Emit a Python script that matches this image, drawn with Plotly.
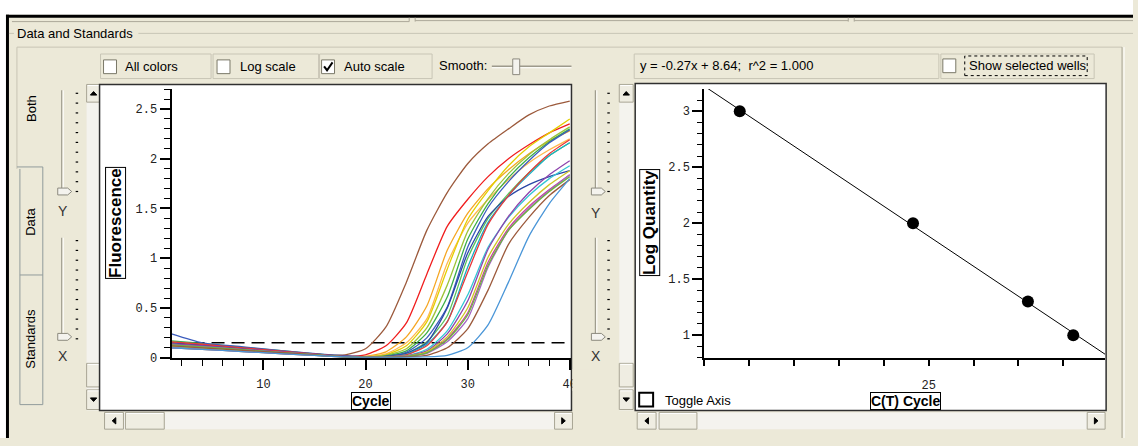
import numpy as np
import plotly.graph_objects as go

W, H = 1138, 446

# ---------------- data ----------------
CYCLES = [1, 4, 8, 12, 16, 18, 20, 22, 24, 26, 28, 30, 32, 34, 36, 38, 40]

WELL_COLORS = ["#9C5A3C", "#F01E1E", "#F5A623", "#FFB84D", "#E3CF00",
               "#9DC43A", "#3DAE49", "#3C5DBE", "#5BC35B", "#2A47A6",
               "#1AAFC4", "#E8383A", "#35C6D4", "#8E44AD", "#C8449E",
               "#CFC626", "#A466C4", "#6DB33F", "#9C5A3C", "#4A96D8"]

WELL_01 = [.14, .12, .087, .056, .03, .03, .09, .31, .76, 1.28, 1.66, 1.95, 2.15, 2.30, 2.44, 2.53, 2.58]
WELL_02 = [.12, .10, .074, .048, .022, .015, .03, .12, .35, .84, 1.32, 1.59, 1.82, 2.00, 2.14, 2.26, 2.35]
WELL_03 = [.16, .136, .10, .064, .029, .013, .015, .06, .21, .52, 1.08, 1.45, 1.70, 1.89, 2.05, 2.18, 2.28]
WELL_04 = [.13, .11, .081, .052, .023, .01, .012, .04, .15, .39, .95, 1.35, 1.59, 1.79, 1.96, 2.09, 2.20]
WELL_05 = [.15, .128, .093, .06, .027, .012, .01, .03, .12, .36, .89, 1.39, 1.68, 1.93, 2.12, 2.26, 2.40]
WELL_06 = [.11, .094, .068, .044, .02, .01, .01, .025, .09, .30, .73, 1.27, 1.60, 1.85, 2.04, 2.19, 2.32]
WELL_07 = [.17, .145, .105, .068, .031, .014, .008, .02, .07, .25, .61, 1.19, 1.55, 1.81, 2.01, 2.17, 2.30]
WELL_08 = [.24, .15, .11, .07, .035, .02, .01, .015, .055, .20, .51, 1.11, 1.51, 1.77, 1.98, 2.16, 2.29]
WELL_09 = [.10, .085, .062, .04, .018, .008, .006, .012, .045, .16, .42, 1.00, 1.40, 1.65, 1.86, 2.03, 2.16]
WELL_10 = [.15, .128, .093, .06, .027, .012, .006, .015, .045, .15, .50, 1.05, 1.42, 1.62, 1.74, 1.82, 1.88]
WELL_11 = [.12, .10, .074, .048, .022, .01, .006, .01, .035, .135, .36, .91, 1.36, 1.63, 1.84, 2.03, 2.16]
WELL_12 = [.16, .136, .10, .064, .029, .013, .006, .01, .03, .12, .36, .86, 1.34, 1.63, 1.86, 2.05, 2.19]
WELL_13 = [.11, .094, .068, .044, .02, .009, .005, .008, .02, .085, .27, .63, 1.11, 1.41, 1.63, 1.80, 1.93]
WELL_14 = [.14, .12, .087, .056, .025, .011, .005, .007, .02, .07, .24, .57, 1.09, 1.42, 1.66, 1.84, 1.98]
WELL_15 = [.10, .085, .062, .04, .018, .008, .004, .006, .015, .055, .19, .45, .96, 1.30, 1.52, 1.69, 1.84]
WELL_16 = [.12, .10, .074, .048, .022, .01, .005, .006, .016, .06, .21, .50, 1.01, 1.34, 1.56, 1.74, 1.88]
WELL_17 = [.13, .11, .081, .052, .023, .01, .004, .005, .014, .045, .16, .39, .91, 1.28, 1.50, 1.68, 1.84]
WELL_18 = [.13, .11, .081, .052, .023, .01, .005, .006, .015, .05, .18, .43, .93, 1.28, 1.49, 1.67, 1.82]
WELL_19 = [.12, .10, .074, .048, .022, .01, .004, .004, .01, .025, .10, .29, .68, 1.14, 1.41, 1.63, 1.79]
WELL_20 = [.10, .085, .062, .04, .018, .008, .003, .003, .004, .008, .025, .10, .33, .76, 1.22, 1.55, 1.80]

WELLS = [WELL_01, WELL_02, WELL_03, WELL_04, WELL_05, WELL_06, WELL_07, WELL_08, WELL_09, WELL_10,
         WELL_11, WELL_12, WELL_13, WELL_14, WELL_15, WELL_16, WELL_17, WELL_18, WELL_19, WELL_20]

THRESHOLD = 0.15

STD_CT = [20.79, 24.65, 27.21, 28.22]
STD_LOGQ = [3.0, 2.0, 1.3, 1.0]
EQUATION_TEXT = "y = -0.27x + 8.64;  r^2 = 1.000"

LEFT_X_RANGE = [1, 40.17]
LEFT_Y_RANGE = [0, 2.70]
RIGHT_X_RANGE = [20, 28.93]
RIGHT_Y_RANGE = [0.792, 3.198]

# ---------------- helpers ----------------
BG = "#ECE9D8"
GREY = "#ACA899"
UI_FONT = "Liberation Sans"
MONO = "Liberation Mono"


def X(px):
    return px / W


def Y(py):
    return 1 - py / H


shapes = []
annotations = []


def rect(x0, y0, x1, y1, fill=None, line=None, lw=1, layer="below", dash=None):
    shapes.append(dict(type="rect", xref="paper", yref="paper",
                       x0=X(x0), x1=X(x1), y0=Y(y1), y1=Y(y0),
                       fillcolor=fill if fill else "rgba(0,0,0,0)",
                       line=dict(color=line if line else "rgba(0,0,0,0)",
                                 width=lw if line else 0, dash=dash),
                       layer=layer))


def seg(x0, y0, x1, y1, color=GREY, lw=1, layer="below", dash=None):
    shapes.append(dict(type="line", xref="paper", yref="paper",
                       x0=X(x0), x1=X(x1), y0=Y(y0), y1=Y(y1),
                       line=dict(color=color, width=lw, dash=dash), layer=layer))


def poly(pts, fill="black", line=None, lw=1, layer="above"):
    d = "M " + " L ".join(f"{X(a):.5f},{Y(b):.5f}" for a, b in pts) + " Z"
    shapes.append(dict(type="path", xref="paper", yref="paper", path=d,
                       fillcolor=fill, line=dict(color=line if line else fill, width=lw),
                       layer=layer))


def text(px, py, s, size=13, anchor="left", angle=0, bold=False, color="black",
         family=UI_FONT, border=None):
    a = dict(x=X(px), y=Y(py), xref="paper", yref="paper", text=f"<b>{s}</b>" if bold else s,
             showarrow=False, xanchor=anchor, yanchor="middle", textangle=angle,
             font=dict(family=family, size=size, color=color))
    if border:
        a.update(bordercolor=border, borderwidth=1, borderpad=0, bgcolor="white")
    annotations.append(a)


# ---------------- window chrome ----------------
rect(0, 0, W, 15, fill="white")
rect(0, 0, 6, H, fill="white")
rect(6, 15, W, 18, fill="black")
rect(6, 15, 9, H, fill="black")
# tab bottoms of the upper panel
seg(12, 22, 411, 22)
seg(411, 18, 411, 22)
seg(417, 18, 417, 22)
seg(417, 21, 852, 21)
seg(852, 18, 852, 22)
seg(858, 18, 858, 22)
seg(858, 21, W, 21)
# group box
seg(9, 34, 14, 34, "#C8C5B5")
seg(139, 34, W, 34, "#C8C5B5")
text(15, 34, "Data and Standards", size=13)
# inner panel
seg(17, 48, 1127, 48, "#C8C5B5")
seg(1127, 48, 1127, H, "#A8A594")
seg(1129, 48, 1129, H, "white")
seg(17, 48, 17, 172, "#C8C5B5")
# side tabs
seg(17, 170, 43, 170, "#919B9C")
seg(43, 170, 43, 412, "#919B9C")
seg(20, 172, 20, 412, "#919B9C")
seg(20, 280, 43, 280, "#919B9C")
seg(20, 412, 43, 412, "#919B9C")
text(31, 110, "Both", size=13, anchor="center", angle=-90)
text(31, 226, "Data", size=13, anchor="center", angle=-90)
text(31, 345, "Standards", size=13, anchor="center", angle=-90)


def slider(track_x, tick_x, y_top, y_thumb, thumb_x0):
    seg(track_x, y_top, track_x, y_thumb, "#9D9A8C", 1.2)
    seg(track_x + 1.5, y_top, track_x + 1.5, y_thumb, "white", 1)
    for k in range(11):
        yy = y_top + 3 + k * 10
        seg(tick_x, yy, tick_x + 2.5, yy, "black", 1.2)
    poly([(thumb_x0, y_thumb - 3.5), (thumb_x0 + 10, y_thumb - 3.5), (thumb_x0 + 14, y_thumb),
          (thumb_x0 + 10, y_thumb + 3.5), (thumb_x0, y_thumb + 3.5)],
         fill="#F4F3EE", line="#8C8A7E", lw=1, layer="below")


slider(62, 76, 92, 195, 58)
slider(62, 76, 242, 343, 58)
slider(598, 610, 92, 195, 594)
slider(598, 610, 242, 343, 594)
text(63, 215, "Y", size=14, anchor="center", color="#333")
text(63, 363, "X", size=14, anchor="center", color="#333")
text(599, 217, "Y", size=14, anchor="center", color="#333")
text(599, 363, "X", size=14, anchor="center", color="#333")


def button(x0, y0, x1, y1):
    rect(x0, y0, x1, y1, fill="#EFEDE2", line="#A8A594", lw=1)
    seg(x0 + 1, y0 + 1, x1 - 1, y0 + 1, "white", 1)


def tri(cx, cy, direction):
    s = 3.2
    if direction == "up":
        pts = [(cx - s, cy + 1.8), (cx + s, cy + 1.8), (cx, cy - 1.8)]
    elif direction == "down":
        pts = [(cx - s, cy - 1.8), (cx + s, cy - 1.8), (cx, cy + 1.8)]
    elif direction == "left":
        pts = [(cx + 1.8, cy - s), (cx + 1.8, cy + s), (cx - 1.8, cy)]
    else:
        pts = [(cx - 1.8, cy - s), (cx - 1.8, cy + s), (cx + 1.8, cy)]
    poly(pts, fill="black", layer="below")


def vscroll(x0, x1):
    rect(x0, 86, x1, 418, fill="#F4F3EE")
    button(x0, 86, x1, 104)
    tri((x0 + x1) / 2, 95, "up")
    button(x0, 370, x1, 394)
    button(x0, 397, x1, 417)
    tri((x0 + x1) / 2, 407, "down")


def hscroll(x0, x1, th0, th1):
    rect(x0, 420, x1, 437, fill="#F4F3EE")
    button(x0, 420, x0 + 19, 437)
    tri(x0 + 9.5, 428.5, "left")
    button(th0, 420, th1, 437)
    button(x1 - 18, 420, x1, 437)
    tri(x1 - 9, 428.5, "right")


vscroll(87, 101)
vscroll(622, 636)
hscroll(105, 575, 126, 165)
hscroll(640, 1110, 662, 700)

# plot frames
rect(100, 86, 574, 418, fill="white", line="#303030", lw=1.5)
rect(638, 85, 1111, 418, fill="white", line="#303030", lw=1.5)

# checkbox row
for (a, b) in [(101, 212), (214, 320), (321, 434)]:
    rect(a, 55, b, 80, line="#C8C5B5")
for bx in [104, 218, 323]:
    rect(bx, 61, bx + 13, 75, fill="white", line="#7A7868", lw=1)
shapes.append(dict(type="path", xref="paper", yref="paper",
                   path=f"M {X(325.5):.5f},{Y(67.5):.5f} L {X(328.5):.5f},{Y(71.5):.5f} L {X(334):.5f},{Y(63.5):.5f}",
                   line=dict(color="black", width=2), layer="above"))
text(124, 68, "All colors")
text(239, 68, "Log scale")
text(344, 68, "Auto scale")
text(439, 67, "Smooth:")
seg(494, 67.5, 574, 67.5, "#9D9A8C", 1.5)
seg(494, 69, 574, 69, "white", 1)
rect(515, 60, 522, 76, fill="#F4F3EE", line="#8C8A7E")

# equation box and show selected wells
rect(637, 55, 943, 80, line="#C8C5B5")
text(641, 67, EQUATION_TEXT)
rect(945, 55, 1099, 80, line="#C8C5B5")
rect(947, 60, 960, 74, fill="white", line="#7A7868")
rect(969, 57, 1092, 77, line="black", lw=1, dash="dot")
text(971, 67, "Show selected wells")

# toggle axis
rect(642, 400, 656, 414, fill="white", line="black", lw=2, layer="above")
text(666, 408, "Toggle Axis")

# axis titles (boxed)
text(116.5, 227, "Fluorescence", size=17, anchor="center", angle=-90, bold=True, border="black")
text(372.5, 408, "Cycle", size=14, anchor="center", bold=True, border="black")
text(653, 227, "Log Quantity", size=17, anchor="center", angle=-90, bold=True, border="black")
text(909, 408, "C(T) Cycle", size=14, anchor="center", bold=True, border="black")

# cover that clips the last cycle label at the frame edge
rect(575, 376, 592, 398, fill=BG, layer="above")

# threshold line
shapes.append(dict(type="line", xref="x domain", yref="y", x0=0, x1=1, y0=THRESHOLD, y1=THRESHOLD,
                   line=dict(color="black", width=1.5, dash="13px,7px"), layer="below"))

# ---------------- traces ----------------
fig = go.Figure()
for col, vals in zip(WELL_COLORS, WELLS):
    fig.add_trace(go.Scatter(x=CYCLES, y=vals, mode="lines",
                             line=dict(color=col, width=1.3, shape="spline", smoothing=0.6),
                             xaxis="x", yaxis="y", hoverinfo="skip", showlegend=False))

coef = np.polyfit(STD_CT, STD_LOGQ, 1)
fit_x = np.array(RIGHT_X_RANGE)
fig.add_trace(go.Scatter(x=fit_x, y=np.polyval(coef, fit_x), mode="lines",
                         line=dict(color="black", width=1), xaxis="x2", yaxis="y2",
                         hoverinfo="skip", showlegend=False))
fig.add_trace(go.Scatter(x=STD_CT, y=STD_LOGQ, mode="markers",
                         marker=dict(size=12, color="black"), xaxis="x2", yaxis="y2",
                         hoverinfo="skip", showlegend=False))

tickfont = dict(family=MONO, size=12, color="#222")
common = dict(showline=True, linecolor="black", linewidth=2, ticks="outside",
              tickcolor="black", tickwidth=1.5, showgrid=False, zeroline=False,
              tickfont=tickfont, fixedrange=True)

fig.update_layout(
    width=W, height=H, margin=dict(l=0, r=0, t=0, b=0),
    paper_bgcolor=BG, plot_bgcolor="rgba(0,0,0,0)",
    showlegend=False, shapes=shapes, annotations=annotations,
    xaxis=dict(domain=[X(172.3), X(574)], range=LEFT_X_RANGE, anchor="y",
               dtick=10, tick0=0, ticklen=10, ticklabelstandoff=4,
               minor=dict(dtick=2, tick0=0, ticks="outside", ticklen=6, tickwidth=1, tickcolor="black"),
               **common),
    yaxis=dict(domain=[Y(364.3), Y(90.7)], range=LEFT_Y_RANGE, anchor="x",
               dtick=0.5, tick0=0, ticklen=10,
               minor=dict(dtick=0.1, tick0=0, ticks="outside", ticklen=6, tickwidth=1, tickcolor="black"),
               **common),
    xaxis2=dict(domain=[X(707.4), X(1110)], range=RIGHT_X_RANGE, anchor="y2",
                tickvals=[25], ticktext=["25"], ticklen=6, ticklabelstandoff=8,
                minor=dict(dtick=1, tick0=20, ticks="outside", ticklen=6, tickwidth=1.5, tickcolor="black"),
                **common),
    yaxis2=dict(domain=[Y(365), Y(90.7)], range=RIGHT_Y_RANGE, anchor="x2",
                dtick=0.5, tick0=0, ticklen=10,
                minor=dict(dtick=0.1, tick0=0, ticks="outside", ticklen=5, tickwidth=1, tickcolor="black"),
                **common),
)

fig.write_html("out.html", config={"displayModeBar": False},
               post_script="document.body.style.margin='0';document.body.style.overflow='hidden';")
